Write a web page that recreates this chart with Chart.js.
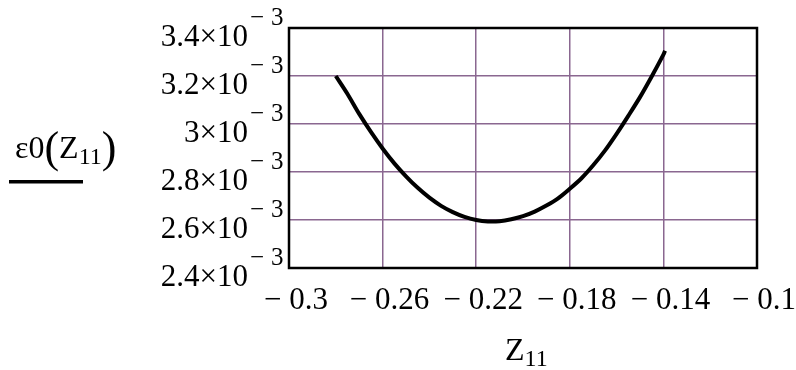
<!DOCTYPE html>
<html>
<head>
<meta charset="utf-8">
<script src="https://cdn.jsdelivr.net/npm/chart.js@4"></script>
<style>
  body { margin: 0; background: #fff; }
  #wrap { width: 796px; height: 370px; }
</style>
</head>
<body>
<div id="wrap"><canvas id="plot" width="796" height="370"></canvas></div>
<script>
// Z11 samples and eps0(Z11)
const z11 = [-0.28, -0.275, -0.27, -0.265, -0.26, -0.255, -0.25, -0.245, -0.24, -0.235,
             -0.23, -0.225, -0.22, -0.215, -0.21, -0.205, -0.2, -0.195, -0.19, -0.185,
             -0.18, -0.175, -0.17, -0.165, -0.16, -0.155, -0.15, -0.145, -0.14, -0.1393];
const eps0 = [3.200e-3, 3.125e-3, 3.042e-3, 2.967e-3, 2.898e-3, 2.836e-3, 2.782e-3, 2.734e-3, 2.693e-3, 2.659e-3,
              2.633e-3, 2.613e-3, 2.600e-3, 2.594e-3, 2.595e-3, 2.603e-3, 2.616e-3, 2.635e-3, 2.660e-3, 2.690e-3,
              2.730e-3, 2.774e-3, 2.828e-3, 2.889e-3, 2.959e-3, 3.034e-3, 3.112e-3, 3.198e-3, 3.289e-3, 3.305e-3];

const xTicks = [-0.3, -0.26, -0.22, -0.18, -0.14, -0.1];
const xTickLabels = ['\u2212 0.3', '\u2212 0.26', '\u2212 0.22', '\u2212 0.18', '\u2212 0.14', '\u2212 0.1'];
const yTicks = [2.4e-3, 2.6e-3, 2.8e-3, 3.0e-3, 3.2e-3, 3.4e-3];
const yTickLabels = ['2.4', '2.6', '2.8', '3', '3.2', '3.4'];

const SERIF = '"Liberation Serif", "Times New Roman", serif';

// draws the frame and all the Mathcad style text
const mathcadFrame = {
  id: 'mathcadFrame',
  afterDraw(chart) {
    const { ctx, chartArea: a, scales: { x, y } } = chart;
    ctx.save();
    ctx.strokeStyle = '#000';
    ctx.lineWidth = 2.5;
    ctx.strokeRect(a.left, a.top, a.right - a.left, a.bottom - a.top);

    ctx.fillStyle = '#000';
    ctx.textBaseline = 'alphabetic';

    // x tick labels
    ctx.font = '31px ' + SERIF;
    ctx.textAlign = 'center';
    xTicks.forEach((v, i) => {
      ctx.fillText(xTickLabels[i], x.getPixelForValue(v) + 7, a.bottom + 41);
    });

    // y tick labels: mantissa x 10 ^ -3
    yTicks.forEach((v, i) => {
      const py = y.getPixelForValue(v);
      ctx.font = '31px ' + SERIF;
      ctx.textAlign = 'right';
      ctx.fillText(yTickLabels[i] + '\u00d710', a.left - 41, py + 18);
      ctx.textAlign = 'left';
      ctx.font = '25px ' + SERIF;
      ctx.fillText('\u2212', a.left - 39, py - 3);
      ctx.fillText('3', a.left - 18, py - 3);
    });

    // left title eps0(Z11) with underline
    let cx = 15;
    const base = 158;
    const put = (txt, size, dy) => {
      ctx.font = size + 'px ' + SERIF;
      ctx.fillText(txt, cx, base + dy);
      cx += ctx.measureText(txt).width;
    };
    ctx.textAlign = 'left';
    put('\u03b50', 32, 0);
    put('(', 44, 4);
    put('Z', 32, 0);
    put('11', 24, 6);
    put(')', 44, 4);
    ctx.fillRect(9, 180, 74, 3.5);

    // x title Z11
    ctx.font = '32px ' + SERIF;
    ctx.fillText('Z', 505, 360);
    const zw = ctx.measureText('Z').width;
    ctx.font = '24px ' + SERIF;
    ctx.fillText('11', 505 + zw, 366);
    ctx.restore();
  }
};

new Chart(document.getElementById('plot'), {
  type: 'scatter',
  data: {
    datasets: [{
      data: z11.map((v, i) => ({ x: v, y: eps0[i] })),
      showLine: true,
      borderColor: '#000',
      borderWidth: 4,
      pointRadius: 0,
      tension: 0.3,
      fill: false
    }]
  },
  options: {
    responsive: false,
    animation: false,
    events: [],
    layout: { padding: { left: 289, right: 39, top: 28, bottom: 102 } },
    plugins: { legend: { display: false }, tooltip: { enabled: false } },
    scales: {
      x: {
        type: 'linear', min: -0.3, max: -0.1,
        afterBuildTicks: s => { s.ticks = xTicks.map(v => ({ value: v })); },
        ticks: { display: false },
        border: { display: false },
        grid: { color: '#8a6790', lineWidth: 1.5, drawTicks: false }
      },
      y: {
        type: 'linear', min: 2.4e-3, max: 3.4e-3,
        afterBuildTicks: s => { s.ticks = yTicks.map(v => ({ value: v })); },
        ticks: { display: false },
        border: { display: false },
        grid: { color: '#8a6790', lineWidth: 1.5, drawTicks: false }
      }
    }
  },
  plugins: [mathcadFrame]
});
</script>
</body>
</html>
